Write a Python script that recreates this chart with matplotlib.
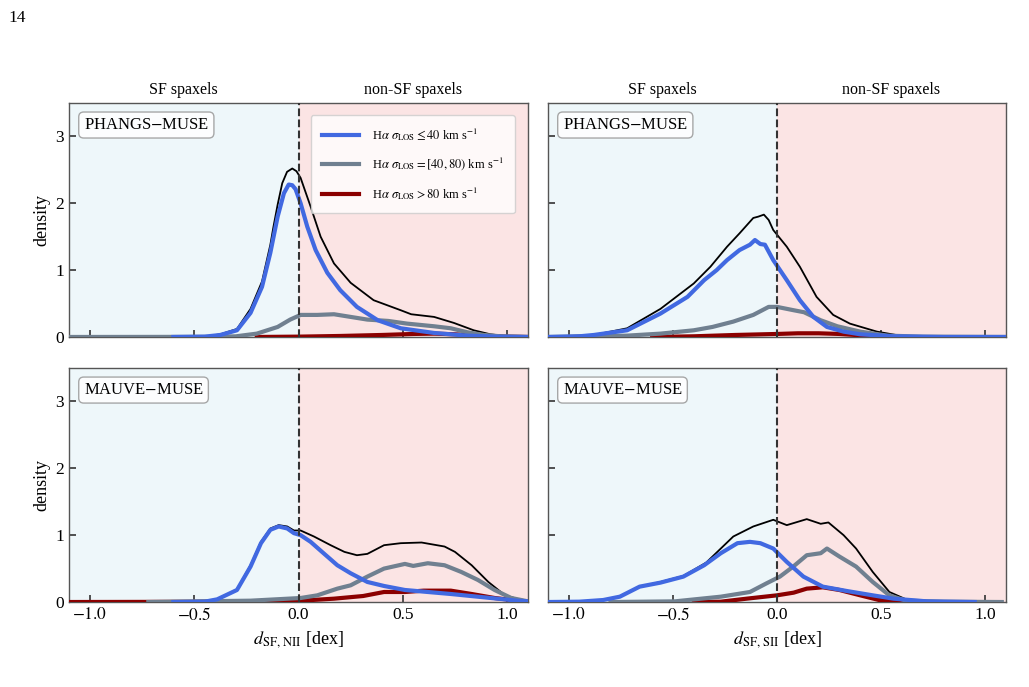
import numpy as np
from matplotlib import pyplot as plt

plt.rcParams['font.family'] = ['Liberation Serif', 'DejaVu Serif']
plt.rcParams['mathtext.fontset'] = 'stix'

## Data (x in dex, y = density)
## Panel order: top-left (NII, PHANGS), top-right (SII, PHANGS),
##              bottom-left (NII, MAUVE), bottom-right (SII, MAUVE)

# --- PHANGS-MUSE, d_SF,NII
tl_tot_x = [-0.6, -0.45, -0.375, -0.295, -0.23, -0.175, -0.135, -0.12, -0.10, -0.078, -0.055, -0.03,
            -0.01, 0.01, 0.03, 0.058, 0.106, 0.17, 0.25, 0.36, 0.49, 0.54, 0.65, 0.745, 0.84, 0.92,
            1.0, 1.1]
tl_tot_y = [0, 0.005, 0.04, 0.12, 0.42, 0.83, 1.38, 1.65, 1.98, 2.30, 2.47, 2.52,
            2.48, 2.38, 2.2, 1.95, 1.5, 1.1, 0.81, 0.55, 0.40, 0.34, 0.30, 0.21, 0.10, 0.04,
            0.01, 0]
tl_lo_x = [-0.6, -0.45, -0.375, -0.295, -0.23, -0.175, -0.135, -0.10, -0.07, -0.047, -0.03, -0.014,
           0.01, 0.042, 0.082, 0.138, 0.20, 0.28, 0.38, 0.49, 0.65, 0.81, 0.95, 1.1]
tl_lo_y = [0, 0.005, 0.03, 0.1, 0.36, 0.75, 1.26, 1.8, 2.15, 2.28, 2.27, 2.21,
           2.0, 1.65, 1.3, 0.96, 0.70, 0.45, 0.25, 0.13, 0.06, 0.02, 0.005, 0]
tl_mid_x = [-1.1, -0.4, -0.3, -0.2, -0.10, -0.04, 0.01, 0.09, 0.17, 0.25, 0.33, 0.43, 0.52,
            0.65, 0.73, 0.81, 0.89, 0.97, 1.1]
tl_mid_y = [0, 0.002, 0.01, 0.05, 0.15, 0.26, 0.33, 0.33, 0.34, 0.30, 0.26, 0.24, 0.20,
            0.16, 0.13, 0.07, 0.03, 0.01, 0]
tl_hi_x = [-0.2, 0.0, 0.2, 0.4, 0.55, 0.65, 0.75, 0.85, 0.95, 1.1]
tl_hi_y = [0, 0.005, 0.015, 0.03, 0.045, 0.05, 0.04, 0.02, 0.008, 0]

# --- PHANGS-MUSE, d_SF,SII
tr_tot_x = [-1.1, -0.88, -0.72, -0.56, -0.40, -0.32, -0.24, -0.18, -0.114, -0.09, -0.063, -0.04,
            -0.018, 0.047, 0.11, 0.19, 0.27, 0.35, 0.48, 0.59, 0.75, 1.1]
tr_tot_y = [0, 0.03, 0.13, 0.42, 0.80, 1.05, 1.35, 1.55, 1.78, 1.80, 1.83, 1.75,
            1.60, 1.35, 1.05, 0.60, 0.33, 0.20, 0.08, 0.02, 0.005, 0]
tr_lo_x = [-1.1, -0.95, -0.88, -0.72, -0.56, -0.43, -0.35, -0.29, -0.24, -0.18, -0.13, -0.106,
           -0.08, -0.058, -0.018, 0.047, 0.11, 0.175, 0.24, 0.32, 0.40, 0.56, 0.8, 1.1]
tr_lo_y = [0, 0.01, 0.03, 0.1, 0.35, 0.60, 0.85, 1.0, 1.15, 1.30, 1.38, 1.45,
           1.39, 1.38, 1.15, 0.85, 0.55, 0.30, 0.15, 0.08, 0.04, 0.01, 0, 0]
tr_mid_x = [-1.1, -0.72, -0.56, -0.40, -0.31, -0.21, -0.114, -0.04, 0.0, 0.08, 0.13, 0.21,
            0.29, 0.40, 0.53, 0.7, 1.1]
tr_mid_y = [0, 0.02, 0.05, 0.10, 0.15, 0.23, 0.33, 0.45, 0.45, 0.40, 0.37, 0.25,
            0.16, 0.08, 0.02, 0.005, 0]
tr_hi_x = [-0.6, -0.4, -0.2, 0.0, 0.1, 0.2, 0.3, 0.4, 0.5, 0.6]
tr_hi_y = [0, 0.01, 0.03, 0.045, 0.055, 0.055, 0.045, 0.025, 0.01, 0]

# --- MAUVE-MUSE, d_SF,NII
bl_tot_x = [-0.6, -0.45, -0.39, -0.295, -0.23, -0.18, -0.135, -0.095, -0.054, -0.022, 0.01, 0.074,
            0.154, 0.22, 0.28, 0.33, 0.41, 0.49, 0.59, 0.70, 0.75, 0.83, 0.91, 0.99, 1.08, 1.1]
bl_tot_y = [0, 0.005, 0.04, 0.19, 0.55, 0.90, 1.10, 1.15, 1.13, 1.07, 1.07, 0.98,
            0.85, 0.75, 0.70, 0.72, 0.85, 0.88, 0.89, 0.83, 0.75, 0.55, 0.30, 0.10, 0.02, 0.01]
bl_lo_x = [-0.6, -0.45, -0.39, -0.295, -0.23, -0.18, -0.135, -0.095, -0.054, -0.022, 0.01, 0.058,
           0.12, 0.186, 0.25, 0.33, 0.41, 0.51, 0.62, 0.73, 0.89, 1.05, 1.1]
bl_lo_y = [0, 0.005, 0.04, 0.18, 0.53, 0.88, 1.08, 1.13, 1.10, 1.03, 1.0, 0.90,
           0.73, 0.55, 0.43, 0.30, 0.24, 0.18, 0.15, 0.12, 0.07, 0.02, 0.01]
bl_mid_x = [-0.72, -0.23, 0.01, 0.09, 0.186, 0.25, 0.33, 0.41, 0.51, 0.55, 0.62, 0.70,
            0.78, 0.86, 0.94, 1.02, 1.1]
bl_mid_y = [0, 0.02, 0.06, 0.10, 0.20, 0.25, 0.38, 0.50, 0.57, 0.54, 0.58, 0.55,
            0.45, 0.33, 0.18, 0.06, 0.01]
bl_hi_x = [-1.1, -0.5, 0.01, 0.17, 0.31, 0.41, 0.51, 0.60, 0.73, 0.83, 0.94, 1.05, 1.1]
bl_hi_y = [0.0, 0.003, 0.02, 0.05, 0.09, 0.15, 0.15, 0.17, 0.17, 0.12, 0.06, 0.02, 0.01]

# --- MAUVE-MUSE, d_SF,SII
br_tot_x = [-1.1, -0.95, -0.835, -0.755, -0.66, -0.56, -0.45, -0.34, -0.26, -0.21, -0.114, -0.018,
            0.047, 0.143, 0.21, 0.247, 0.32, 0.38, 0.46, 0.54, 0.62, 0.72, 1.0]
br_tot_y = [0, 0.005, 0.03, 0.08, 0.23, 0.30, 0.39, 0.59, 0.83, 0.98, 1.13, 1.23,
            1.15, 1.24, 1.17, 1.19, 1.0, 0.80, 0.45, 0.15, 0.04, 0.01, 0]
br_lo_x = [-1.1, -0.95, -0.835, -0.755, -0.66, -0.56, -0.45, -0.35, -0.27, -0.19, -0.13, -0.08,
           -0.018, 0.047, 0.127, 0.22, 0.335, 0.46, 0.56, 0.72, 0.95]
br_lo_y = [0, 0.005, 0.03, 0.08, 0.23, 0.29, 0.38, 0.55, 0.73, 0.88, 0.90, 0.88,
           0.80, 0.60, 0.38, 0.23, 0.165, 0.10, 0.05, 0.01, 0]
br_mid_x = [-0.8, -0.49, -0.27, -0.13, -0.05, 0.014, 0.078, 0.143, 0.21, 0.24, 0.30, 0.38,
            0.46, 0.54, 0.62, 0.8, 1.08]
br_mid_y = [0, 0.01, 0.08, 0.15, 0.28, 0.38, 0.53, 0.70, 0.73, 0.80, 0.68, 0.53,
            0.30, 0.10, 0.02, 0.005, 0]
br_hi_x = [-0.4, -0.27, -0.146, 0.0, 0.08, 0.143, 0.22, 0.30, 0.40, 0.49, 0.56, 0.7]
br_hi_y = [0, 0.005, 0.05, 0.10, 0.14, 0.20, 0.22, 0.18, 0.10, 0.03, 0.005, 0]

panels = [
    ('PHANGS$-$MUSE', tl_tot_x, tl_tot_y, tl_lo_x, tl_lo_y, tl_mid_x, tl_mid_y, tl_hi_x, tl_hi_y),
    ('PHANGS$-$MUSE', tr_tot_x, tr_tot_y, tr_lo_x, tr_lo_y, tr_mid_x, tr_mid_y, tr_hi_x, tr_hi_y),
    ('MAUVE$-$MUSE', bl_tot_x, bl_tot_y, bl_lo_x, bl_lo_y, bl_mid_x, bl_mid_y, bl_hi_x, bl_hi_y),
    ('MAUVE$-$MUSE', br_tot_x, br_tot_y, br_lo_x, br_lo_y, br_mid_x, br_mid_y, br_hi_x, br_hi_y),
]

leg_labels = [r'H$\alpha$ $\sigma_{\rm LOS} \leq 40$ km s$^{-1}$',
              r'H$\alpha$ $\sigma_{\rm LOS} = [40, 80)$ km s$^{-1}$',
              r'H$\alpha$ $\sigma_{\rm LOS} > 80$ km s$^{-1}$']
xlabels = [r'$d_{\rm SF,\,NII}$ [dex]', r'$d_{\rm SF,\,SII}$ [dex]']

c_lo, c_mid, c_hi = 'royalblue', 'slategray', 'darkred'
bg_sf, bg_nonsf = '#eef7fa', '#fbe4e4'

fig = plt.figure(figsize=(10.29, 6.87), dpi=100)

## axes boxes [left, bottom, width, height] (figure fractions)
boxes = [[0.0671, 0.5095, 0.446, 0.3406],
         [0.5326, 0.5095, 0.445, 0.3406],
         [0.0671, 0.1237, 0.446, 0.3406],
         [0.5326, 0.1237, 0.445, 0.3406]]

for i, (name, tx, ty, lx, ly, mx, my, hx, hy) in enumerate(panels):
    ax = fig.add_axes(boxes[i])
    ax.axvspan(-1.1, 0, color=bg_sf, zorder=0, lw=0)
    ax.axvspan(0, 1.1, color=bg_nonsf, zorder=0, lw=0)
    ax.axvline(0, color='#333333', ls='--', lw=1.5, zorder=5)

    ax.plot(tx, ty, color='black', lw=1.3, zorder=2)
    ax.plot(hx, hy, color=c_hi, lw=3, label=leg_labels[2], zorder=3, solid_joinstyle='round')
    ax.plot(mx, my, color=c_mid, lw=3, label=leg_labels[1], zorder=3, solid_joinstyle='round')
    ax.plot(lx, ly, color=c_lo, lw=3, label=leg_labels[0], zorder=4, solid_joinstyle='round')

    ax.set_xlim(-1.1, 1.1)
    ax.set_ylim(0, 3.5)
    ax.set_xticks([-1.0, -0.5, 0.0, 0.5, 1.0])
    ax.set_yticks([0, 1, 2, 3])
    ax.tick_params(direction='in', length=5, width=1.2, labelsize=12.5, color='#333333')
    for sp in ax.spines.values():
        sp.set_color('#555555')
        sp.set_linewidth(1.0)

    ax.text(0.032, 0.94, name, transform=ax.transAxes, fontsize=12, va='top', ha='left',
            zorder=6, bbox=dict(boxstyle='round,pad=0.3', fc='white', ec='#999999', alpha=0.85))

    if i < 2:
        ax.set_xticklabels([])
        ax.text(-0.55, 3.58, 'SF spaxels', ha='center', va='bottom', fontsize=11.5)
        ax.text(0.55, 3.58, 'non-SF spaxels', ha='center', va='bottom', fontsize=11.5)
    else:
        ax.set_xticklabels(['$-1.0$', '$-0.5$', '0.0', '0.5', '1.0'])
        ax.set_xlabel(xlabels[i - 2], fontsize=13)
    if i % 2 == 0:
        ax.set_ylabel('density', fontsize=13)
    else:
        ax.set_yticklabels([])

    if i == 0:
        h, l = ax.get_legend_handles_labels()
        leg = ax.legend(h[::-1], l[::-1], loc='upper right', fontsize=9, labelspacing=1.0,
                        handlelength=3.0, handletextpad=1.0, borderpad=0.9,
                        framealpha=0.8, edgecolor='#cccccc', fancybox=True,
                        bbox_to_anchor=(0.985, 0.975))
        leg.set_zorder(7)

## page number
fig.text(0.008, 0.985, '14', fontsize=12.5, ha='left', va='top')

plt.savefig('out.png', dpi=100)
